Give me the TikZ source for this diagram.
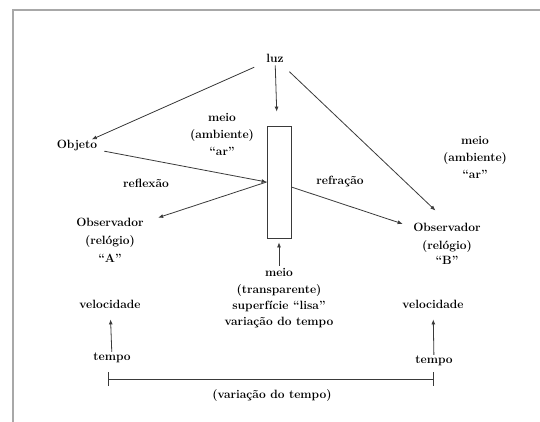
\documentclass[tikz,border=0pt]{standalone}
\usepackage{fontspec}
\usetikzlibrary{arrows.meta,positioning}
\definecolor{frameGray}{HTML}{A8A8A8}
\definecolor{lineGray}{HTML}{3A3A3A}

\begin{document}
\begin{tikzpicture}[x=1pt, y=-1pt,
  font=\bfseries\fontsize{12}{17}\selectfont,
  lbl/.style={align=center, inner sep=1pt, text=black},
  ar/.style={draw=lineGray, line width=0.8pt, -{Latex[length=5pt,width=4pt]}}]
\useasboundingbox (0,0) rectangle (540,422);
% frame
\draw[frameGray, line width=2pt] (540,10) -- (13,10) -- (13,422);
% light, object and the transparent medium
\node[lbl] (luz) at (275,58) {luz};
\node[lbl] (objeto) at (77,146) {Objeto};
\node[draw=lineGray, line width=0.8pt, minimum width=24pt, minimum height=112pt, inner sep=0pt] (meioT) at (279,182) {};
\node[lbl] (ambL) at (222,134) {meio\\(ambiente)\\“ar”};
\node[lbl] (ambR) at (475,157) {meio\\(ambiente)\\“ar”};
\node[lbl] (refl) at (146,183) {reflexão};
\node[lbl] (refr) at (340,181) {refração};
% observers
\node[lbl] (obsA) at (110,222) {Observador};
\node[lbl, font=\bfseries\fontsize{12}{18}\selectfont] (obsAc) at (110,249) {(relógio)\\“A”};
\node[lbl] (obsB) at (447,227) {Observador};
\node[lbl, font=\bfseries\fontsize{12}{15}\selectfont] (obsBc) at (447,252.5) {(relógio)\\“B”};
\node[lbl, font=\bfseries\fontsize{12}{16.3}\selectfont] (meioB) at (279,298.5) {meio\\(transparente)\\superfície “lisa”\\variação do tempo};
% time and speed
\node[lbl] (velA) at (110,304) {velocidade};
\node[lbl] (velB) at (433,304) {velocidade};
\node[lbl] (tempoA) at (112,358) {tempo};
\node[lbl] (tempoB) at (434,361) {tempo};
\coordinate (t1) at (108,379);
\coordinate (t2) at (434,379);
\node[lbl] (dT) at (272,396) {(variação do tempo)};

\draw[ar, shorten <=12pt] (luz) -- (objeto);
\draw[ar, shorten <=2pt, shorten >=14pt] (luz) -- (meioT);
\draw[ar, shorten <=12pt, shorten >=16pt] (luz) -- (obsB.north);
\draw[ar, shorten <=6pt] (objeto) -- (meioT.west);
\draw[ar, shorten >=14pt] (meioT.west) -- (obsA.east);
\draw[ar, shorten >=10pt] (meioT.338) -- (obsB.west);
\draw[ar, shorten <=2pt, shorten >=4pt] (meioB) -- (meioT);
\draw[ar, shorten >=10pt] (tempoA) -- (velA);
\draw[ar, shorten >=10pt] (tempoB) -- (velB);
\draw[lineGray, line width=0.8pt, {Bar[width=14pt]}-{Bar[width=14pt]}] (t1) -- (t2);
\end{tikzpicture}
\end{document}
